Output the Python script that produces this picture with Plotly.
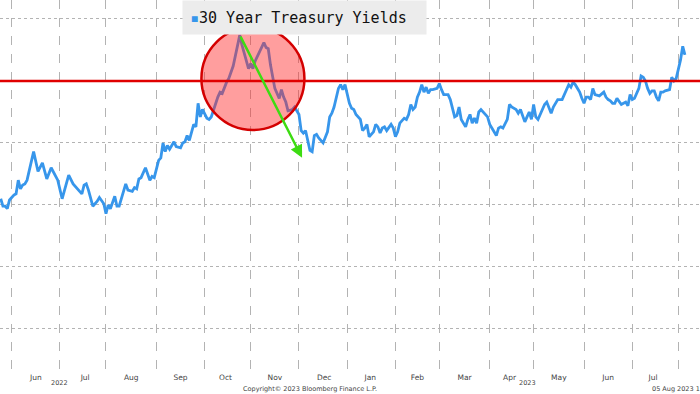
import plotly.graph_objects as go

# ---- data (30Y US Treasury yield, %) ----
dates = [
    "2022-05-25", "2022-05-26", "2022-05-27", "2022-05-30", "2022-05-31", "2022-06-02", "2022-06-03",
    "2022-06-06", "2022-06-07", "2022-06-08", "2022-06-09", "2022-06-10", "2022-06-15", "2022-06-17",
    "2022-06-21", "2022-06-23", "2022-06-27", "2022-06-29", "2022-06-30", "2022-07-04", "2022-07-07",
    "2022-07-11", "2022-07-13", "2022-07-15", "2022-07-18", "2022-07-19", "2022-07-20", "2022-07-22",
    "2022-07-26", "2022-07-27", "2022-07-29", "2022-08-01", "2022-08-02", "2022-08-03", "2022-08-05",
    "2022-08-08", "2022-08-09", "2022-08-12", "2022-08-15", "2022-08-17", "2022-08-18", "2022-08-19",
    "2022-08-22", "2022-08-23", "2022-08-25", "2022-08-29", "2022-08-30", "2022-08-31", "2022-09-02",
    "2022-09-05", "2022-09-06", "2022-09-07", "2022-09-08", "2022-09-09", "2022-09-13", "2022-09-14",
    "2022-09-16", "2022-09-19", "2022-09-20", "2022-09-21", "2022-09-22", "2022-09-23", "2022-09-26",
    "2022-09-27", "2022-09-28", "2022-09-29", "2022-09-30", "2022-10-04", "2022-10-05", "2022-10-06",
    "2022-10-07", "2022-10-10", "2022-10-11", "2022-10-12", "2022-10-13", "2022-10-17", "2022-10-18",
    "2022-10-20", "2022-10-21", "2022-10-24", "2022-10-25", "2022-10-26", "2022-10-28", "2022-10-31",
    "2022-11-01", "2022-11-02", "2022-11-03", "2022-11-07", "2022-11-09", "2022-11-10", "2022-11-11",
    "2022-11-14", "2022-11-15", "2022-11-16", "2022-11-18", "2022-11-21", "2022-11-22", "2022-11-23",
    "2022-11-24", "2022-11-28", "2022-11-29", "2022-12-01", "2022-12-02", "2022-12-05", "2022-12-06",
    "2022-12-07", "2022-12-08", "2022-12-09", "2022-12-12", "2022-12-13", "2022-12-14", "2022-12-16",
    "2022-12-20", "2022-12-21", "2022-12-22", "2022-12-23", "2022-12-26", "2022-12-27", "2022-12-28",
    "2022-12-29", "2022-12-30", "2023-01-02", "2023-01-03", "2023-01-04", "2023-01-05", "2023-01-06",
    "2023-01-10", "2023-01-11", "2023-01-12", "2023-01-13", "2023-01-16", "2023-01-18", "2023-01-19",
    "2023-01-20", "2023-01-23", "2023-01-24", "2023-01-25", "2023-01-26", "2023-01-27", "2023-01-30",
    "2023-01-31", "2023-02-01", "2023-02-02", "2023-02-03", "2023-02-07", "2023-02-08", "2023-02-09",
    "2023-02-10", "2023-02-13", "2023-02-14", "2023-02-15", "2023-02-16", "2023-02-17", "2023-02-20",
    "2023-02-21", "2023-02-22", "2023-02-23", "2023-02-24", "2023-02-28", "2023-03-01", "2023-03-02",
    "2023-03-03", "2023-03-06", "2023-03-07", "2023-03-08", "2023-03-09", "2023-03-10", "2023-03-13",
    "2023-03-14", "2023-03-15", "2023-03-16", "2023-03-17", "2023-03-20", "2023-03-21", "2023-03-22",
    "2023-03-23", "2023-03-24", "2023-03-27", "2023-03-28", "2023-03-29", "2023-03-31", "2023-04-03",
    "2023-04-04", "2023-04-05", "2023-04-06", "2023-04-07", "2023-04-10", "2023-04-11", "2023-04-13",
    "2023-04-14", "2023-04-17", "2023-04-19", "2023-04-20", "2023-04-21", "2023-04-25", "2023-04-26",
    "2023-04-27", "2023-04-28", "2023-05-01", "2023-05-02", "2023-05-03", "2023-05-04", "2023-05-08",
    "2023-05-09", "2023-05-10", "2023-05-11", "2023-05-12", "2023-05-16", "2023-05-18", "2023-05-19",
    "2023-05-22", "2023-05-23", "2023-05-24", "2023-05-25", "2023-05-26", "2023-05-30", "2023-05-31",
    "2023-06-01", "2023-06-02", "2023-06-05", "2023-06-06", "2023-06-07", "2023-06-08", "2023-06-12",
    "2023-06-14", "2023-06-15", "2023-06-16", "2023-06-19", "2023-06-20", "2023-06-21", "2023-06-22",
    "2023-06-23", "2023-06-26", "2023-06-27", "2023-06-28", "2023-06-29", "2023-06-30", "2023-07-03",
    "2023-07-04", "2023-07-06", "2023-07-07", "2023-07-10", "2023-07-11", "2023-07-12", "2023-07-13",
    "2023-07-14", "2023-07-17", "2023-07-18", "2023-07-19", "2023-07-20", "2023-07-21", "2023-07-24",
    "2023-07-26", "2023-07-27", "2023-07-28", "2023-07-31", "2023-08-01", "2023-08-02", "2023-08-03",
    "2023-08-04",
]
yields = [
    3.05, 2.99, 2.99, 2.97, 3.04, 3.08, 3.09,
    3.20, 3.13, 3.16, 3.17, 3.20, 3.43, 3.27,
    3.34, 3.21, 3.30, 3.23, 3.20, 3.05, 3.24,
    3.17, 3.13, 3.09, 3.16, 3.17, 3.12, 2.99,
    3.03, 3.06, 3.01, 2.93, 3.00, 2.97, 3.07,
    2.99, 2.99, 3.17, 3.12, 3.11, 3.14, 3.13,
    3.21, 3.22, 3.30, 3.20, 3.23, 3.22, 3.36,
    3.38, 3.50, 3.43, 3.48, 3.45, 3.51, 3.47,
    3.46, 3.50, 3.51, 3.56, 3.52, 3.58, 3.65,
    3.63, 3.82, 3.71, 3.77, 3.70, 3.69, 3.71,
    3.77, 3.83, 3.87, 3.91, 3.90, 3.99, 4.02,
    4.12, 4.20, 4.29, 4.37, 4.29, 4.15, 4.10,
    4.14, 4.10, 4.16, 4.24, 4.31, 4.27, 4.26,
    4.13, 4.04, 3.94, 3.86, 3.93, 3.87, 3.83,
    3.76, 3.77, 3.79, 3.73, 3.60, 3.58, 3.60,
    3.51, 3.44, 3.43, 3.56, 3.57, 3.54, 3.50,
    3.59, 3.71, 3.74, 3.79, 3.87, 3.94, 3.97,
    3.93, 3.97, 3.90, 3.82, 3.78, 3.77, 3.73,
    3.69, 3.60, 3.62, 3.65, 3.55, 3.59, 3.65,
    3.63, 3.58, 3.62, 3.63, 3.60, 3.63, 3.65,
    3.62, 3.55, 3.59, 3.66, 3.70, 3.69, 3.73,
    3.81, 3.77, 3.79, 3.87, 3.91, 3.97, 3.91,
    3.95, 3.90, 3.93, 3.93, 3.94, 3.98, 3.93,
    3.89, 3.89, 3.89, 3.85, 3.79, 3.71, 3.72,
    3.79, 3.69, 3.66, 3.63, 3.69, 3.73, 3.66,
    3.70, 3.66, 3.75, 3.77, 3.75, 3.71, 3.65,
    3.62, 3.58, 3.56, 3.62, 3.63, 3.62, 3.69,
    3.81, 3.79, 3.77, 3.74, 3.77, 3.67, 3.71,
    3.75, 3.69, 3.81, 3.71, 3.69, 3.73, 3.81,
    3.83, 3.78, 3.74, 3.79, 3.85, 3.85, 3.89,
    3.94, 3.97, 3.95, 3.99, 3.97, 3.91, 3.86,
    3.82, 3.87, 3.87, 3.85, 3.94, 3.89, 3.88,
    3.91, 3.87, 3.85, 3.84, 3.82, 3.82, 3.86,
    3.83, 3.81, 3.82, 3.83, 3.80, 3.89, 3.85,
    3.86, 3.94, 4.04, 4.03, 4.00, 3.94, 3.90,
    3.92, 3.92, 3.87, 3.84, 3.91, 3.91, 3.92,
    3.93, 4.03, 4.00, 4.02, 4.09, 4.17, 4.28,
    4.21,
]
series_name = "30 Year Treasury Yields"
ref_level = 4.0                      # red horizontal reference line
highlight_center = ("2022-11-02", 4.02)  # red circle around the Oct-Nov peak
arrow_from = ("2022-10-25", 4.37)
arrow_to = ("2022-12-02 10:00", 3.38)
year_labels = [("2022-07-01", "2022"), ("2023-04-26", "2023")]
x_range = ["2022-05-24 16:00", "2023-08-14 21:00"]
y_range = [1.661, 4.653]

BLUE = "#3796eb"
GRID = "#b3b3b3"
TXT = "#444444"

fig = go.Figure()
fig.add_trace(go.Scatter(
    x=dates, y=yields, mode="lines", name=series_name,
    line=dict(color=BLUE, width=2.8), showlegend=False, hoverinfo="skip",
))

shapes = [
    dict(type="circle", xref="x", yref="y", xsizemode="pixel", ysizemode="pixel",
         xanchor=highlight_center[0], yanchor=highlight_center[1],
         x0=-51.5, x1=51.5, y0=-51.5, y1=51.5,
         fillcolor="rgba(255,40,40,0.45)", line=dict(color="#d40000", width=2.5),
         layer="above"),
    dict(type="line", xref="paper", x0=0, x1=1, yref="y", y0=ref_level, y1=ref_level,
         line=dict(color="#e00000", width=2.5), layer="above"),
]

annotations = [
    dict(x=arrow_to[0], y=arrow_to[1], ax=arrow_from[0], ay=arrow_from[1],
         xref="x", yref="y", axref="x", ayref="y", text="", showarrow=True,
         arrowhead=2, arrowsize=1, arrowwidth=2.5, arrowcolor="#3ddc12"),
    dict(xref="paper", yref="paper", x=182 / 700, y=1, xanchor="left", yanchor="top",
         text="<span style='color:%s'>▪</span>%s" % (BLUE, series_name),
         showarrow=False, bgcolor="#ececec", borderpad=7, width=229, height=19, align="left",
         font=dict(family="DejaVu Sans Mono", size=15, color="#111111")),
    dict(xref="paper", yref="paper", x=0.443, y=0, yanchor="middle", yshift=-18,
         text="Copyright© 2023 Bloomberg Finance L.P.", showarrow=False,
         font=dict(family="DejaVu Sans", size=6.5, color=TXT)),
    dict(xref="paper", yref="paper", x=650 / 700, y=0, xanchor="left", yanchor="middle", yshift=-18,
         text="05 Aug 2023 1", showarrow=False,
         font=dict(family="DejaVu Sans", size=6.5, color=TXT)),
]
for xd, lab in year_labels:
    annotations.append(dict(xref="x", yref="paper", x=xd, y=0, yanchor="middle", yshift=-12,
                            text=lab, showarrow=False,
                            font=dict(family="DejaVu Sans", size=6.5, color=TXT)))

fig.update_layout(
    width=700, height=394, autosize=False,
    margin=dict(l=0, r=0, t=0, b=23),
    paper_bgcolor="white", plot_bgcolor="white",
    shapes=shapes, annotations=annotations, showlegend=False,
    hovermode=False,
    xaxis=dict(
        type="date", range=x_range,
        rangebreaks=[dict(bounds=["sat", "mon"])],
        tick0="2022-06-01", dtick="M1", tickformat="%b", ticklabelmode="period",
        showgrid=True, gridcolor=GRID, griddash="dash", gridwidth=1,
        ticks="", showline=False, zeroline=False,
        tickfont=dict(family="DejaVu Sans", size=7.5, color=TXT),
    ),
    yaxis=dict(
        range=y_range, tick0=0, dtick=0.5, showticklabels=False,
        showgrid=True, gridcolor=GRID, griddash="dot", gridwidth=1,
        zeroline=False, showline=False, ticks="",
    ),
)

fig.write_html(
    "out.html",
    config={"displayModeBar": False},
    post_script="document.body.style.margin='0';document.body.style.padding='0';",
)
